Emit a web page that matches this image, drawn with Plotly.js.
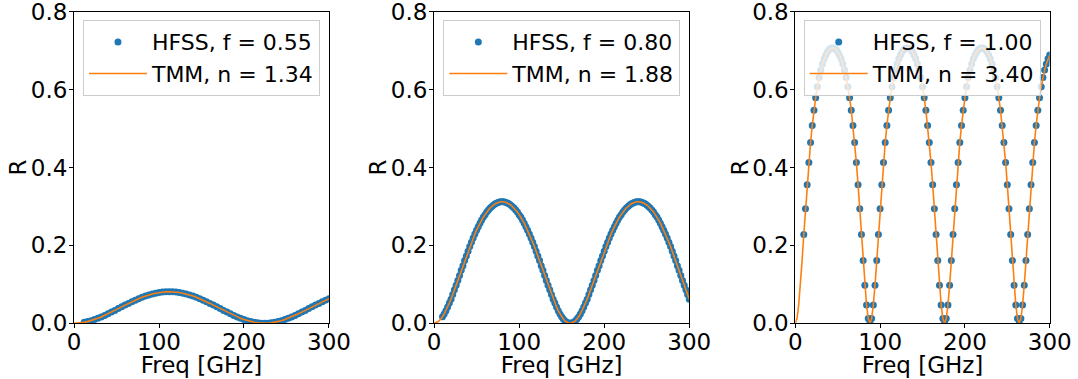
<!DOCTYPE html>
<html>
<head>
<meta charset="utf-8">
<script src="https://cdn.plot.ly/plotly-3.0.1.min.js"></script>
<style>html,body{margin:0;padding:0;background:#fff;}#chart{width:1078px;height:379px;}</style>
</head>
<body>
<div id="chart"></div>
<script>
// Frequency grids [GHz]
var freqTMM_23 = [0,2,4,6,8,10,12,14,16,18,20,22,24,26,28,30,32,34,36,38,40,42,44,46,48,50,52,54,56,58,60,62,64,66,68,70,72,74,76,78,80,82,84,86,88,90,92,94,96,98,100,102,104,106,108,110,112,114,116,118,120,122,124,126,128,130,132,134,136,138,140,142,144,146,148,150,152,154,156,158,160,162,164,166,168,170,172,174,176,178,180,182,184,186,188,190,192,194,196,198,200,202,204,206,208,210,212,214,216,218,220,222,224,226,228,230,232,234,236,238,240,242,244,246,248,250,252,254,256,258,260,262,264,266,268,270,272,274,276,278,280,282,284,286,288,290,292,294,296,298,300];
var freqHFSS_23 = [10,12,14,16,18,20,22,24,26,28,30,32,34,36,38,40,42,44,46,48,50,52,54,56,58,60,62,64,66,68,70,72,74,76,78,80,82,84,86,88,90,92,94,96,98,100,102,104,106,108,110,112,114,116,118,120,122,124,126,128,130,132,134,136,138,140,142,144,146,148,150,152,154,156,158,160,162,164,166,168,170,172,174,176,178,180,182,184,186,188,190,192,194,196,198,200,202,204,206,208,210,212,214,216,218,220,222,224,226,228,230,232,234,236,238,240,242,244,246,248,250,252,254,256,258,260,262,264,266,268,270,272,274,276,278,280,282,284,286,288,290,292,294,296,298,300];
var freqTMM_1 = [0,4,8,12,16,20,24,28,32,36,40,44,48,52,56,60,64,68,72,76,80,84,88,92,96,100,104,108,112,116,120,124,128,132,136,140,144,148,152,156,160,164,168,172,176,180,184,188,192,196,200,204,208,212,216,220,224,228,232,236,240,244,248,252,256,260,264,268,272,276,280,284,288,292,296,300];
var freqHFSS_1 = [12,16,20,24,28,32,36,40,44,48,52,56,60,64,68,72,76,80,84,88,92,96,100,104,108,112,116,120,124,128,132,136,140,144,148,152,156,160,164,168,172,176,180,184,188,192,196,200,204,208,212,216,220,224,228,232,236,240,244,248,252,256,260,264,268,272,276,280,284,288,292,296,300];

// Panel 1: HFSS f = 0.55, TMM n = 1.34
var R_TMM_1 = [0,0.0003,0.0011,0.0025,0.0043,0.0067,0.0095,0.0127,0.0163,0.0202,0.0243,0.0287,0.0331,0.0377,0.0422,0.0467,0.0511,0.0554,0.0594,0.0632,0.0668,0.0700,0.0728,0.0753,0.0773,0.0789,0.0801,0.0808,0.0810,
0.0808,0.0801,0.0789,0.0773,0.0753,0.0728,0.0700,0.0668,0.0632,0.0594,0.0554,0.0511,0.0467,0.0422,0.0377,0.0331,0.0287,0.0243,0.0202,0.0163,0.0127,0.0095,0.0067,0.0043,0.0025,0.0011,0.0003,
0,0.0003,0.0011,0.0025,0.0043,0.0067,0.0095,0.0127,0.0163,0.0202,0.0243,0.0287,0.0331,0.0377,0.0422,0.0467,0.0511,0.0554,0.0594,0.0632];
var R_HFSS_1 = [0.0025,0.0043,0.0067,0.0095,0.0127,0.0163,0.0202,0.0243,0.0287,0.0331,0.0377,0.0422,0.0467,0.0511,0.0554,0.0594,0.0632,0.0668,0.0700,0.0728,0.0753,0.0773,0.0789,0.0801,0.0808,0.0810,
0.0808,0.0801,0.0789,0.0773,0.0753,0.0728,0.0700,0.0668,0.0632,0.0594,0.0554,0.0511,0.0467,0.0422,0.0377,0.0331,0.0287,0.0243,0.0202,0.0163,0.0127,0.0095,0.0067,0.0043,0.0025,0.0011,0.0003,
0,0.0003,0.0011,0.0025,0.0043,0.0067,0.0095,0.0127,0.0163,0.0202,0.0243,0.0287,0.0331,0.0377,0.0422,0.0467,0.0511,0.0554,0.0594,0.0632];

// Panel 2: HFSS f = 0.80, TMM n = 1.88
var R_TMM_2 = [0,0.001,0.003,0.006,0.011,0.017,0.024,0.032,0.042,0.052,0.062,0.074,0.086,0.098,0.110,0.123,0.136,0.148,0.161,0.173,0.185,0.197,0.208,0.219,0.229,0.239,0.248,0.257,0.265,0.273,0.279,0.286,0.291,0.296,0.300,0.304,0.307,0.309,0.311,0.312,0.312,
0.312,0.311,0.309,0.307,0.304,0.300,0.296,0.291,0.286,0.279,0.273,0.265,0.257,0.248,0.239,0.229,0.219,0.208,0.197,0.185,0.173,0.161,0.148,0.136,0.123,0.110,0.098,0.086,0.074,0.062,0.052,0.042,0.032,0.024,0.017,0.011,0.006,0.003,0.001,
0,0.001,0.003,0.006,0.011,0.017,0.024,0.032,0.042,0.052,0.062,0.074,0.086,0.098,0.110,0.123,0.136,0.148,0.161,0.173,0.185,0.197,0.208,0.219,0.229,0.239,0.248,0.257,0.265,0.273,0.279,0.286,0.291,0.296,0.300,0.304,0.307,0.309,0.311,0.312,0.312,
0.312,0.311,0.309,0.307,0.304,0.300,0.296,0.291,0.286,0.279,0.273,0.265,0.257,0.248,0.239,0.229,0.219,0.208,0.197,0.185,0.173,0.161,0.148,0.136,0.123,0.110,0.098,0.086,0.074,0.062];
var R_HFSS_2 = [0.017,0.024,0.032,0.042,0.052,0.062,0.074,0.086,0.098,0.110,0.123,0.136,0.148,0.161,0.173,0.185,0.197,0.208,0.219,0.229,0.239,0.248,0.257,0.265,0.273,0.279,0.286,0.291,0.296,0.300,0.304,0.307,0.309,0.311,0.312,0.312,
0.312,0.311,0.309,0.307,0.304,0.300,0.296,0.291,0.286,0.279,0.273,0.265,0.257,0.248,0.239,0.229,0.219,0.208,0.197,0.185,0.173,0.161,0.148,0.136,0.123,0.110,0.098,0.086,0.074,0.062,0.052,0.042,0.032,0.024,0.017,0.011,0.006,0.003,0.001,
0,0.001,0.003,0.006,0.011,0.017,0.024,0.032,0.042,0.052,0.062,0.074,0.086,0.098,0.110,0.123,0.136,0.148,0.161,0.173,0.185,0.197,0.208,0.219,0.229,0.239,0.248,0.257,0.265,0.273,0.279,0.286,0.291,0.296,0.300,0.304,0.307,0.309,0.311,0.312,0.312,
0.312,0.311,0.309,0.307,0.304,0.300,0.296,0.291,0.286,0.279,0.273,0.265,0.257,0.248,0.239,0.229,0.219,0.208,0.197,0.185,0.173,0.161,0.148,0.136,0.123,0.110,0.098,0.086,0.074,0.062];

// Panel 3: HFSS f = 1.00, TMM n = 3.40
var R_TMM_3 = [0,0.012,0.047,0.098,0.161,0.228,0.294,0.356,0.413,0.464,0.508,0.547,0.579,0.607,0.631,0.650,0.666,0.679,0.689,0.697,0.703,0.706,0.707,0.706,0.703,0.697,0.689,0.679,0.666,0.650,0.631,0.607,0.579,0.547,0.508,0.464,0.413,0.356,0.294,0.228,0.161,0.098,0.047,0.012,
0,0.012,0.047,0.098,0.161,0.228,0.294,0.356,0.413,0.464,0.508,0.547,0.579,0.607,0.631,0.650,0.666,0.679,0.689,0.697,0.703,0.706,0.707,0.706,0.703,0.697,0.689,0.679,0.666,0.650,0.631,0.607,0.579,0.547,0.508,0.464,0.413,0.356,0.294,0.228,0.161,0.098,0.047,0.012,
0,0.012,0.047,0.098,0.161,0.228,0.294,0.356,0.413,0.464,0.508,0.547,0.579,0.607,0.631,0.650,0.666,0.679,0.689,0.697,0.703,0.706,0.707,0.706,0.703,0.697,0.689,0.679,0.666,0.650,0.631,0.607,0.579,0.547,0.508,0.464,0.413,0.356,0.294,0.228,0.161,0.098,0.047,0.012,
0,0.012,0.047,0.098,0.161,0.228,0.294,0.356,0.413,0.464,0.508,0.547,0.579,0.607,0.631,0.650,0.666,0.679,0.689];
var R_HFSS_3 = [0.228,0.294,0.356,0.413,0.464,0.508,0.547,0.579,0.607,0.631,0.650,0.666,0.679,0.689,0.697,0.703,0.706,0.707,0.706,0.703,0.697,0.689,0.679,0.666,0.650,0.631,0.607,0.579,0.547,0.508,0.464,0.413,0.356,0.294,0.228,0.161,0.098,0.047,0.012,
0,0.012,0.047,0.098,0.161,0.228,0.294,0.356,0.413,0.464,0.508,0.547,0.579,0.607,0.631,0.650,0.666,0.679,0.689,0.697,0.703,0.706,0.707,0.706,0.703,0.697,0.689,0.679,0.666,0.650,0.631,0.607,0.579,0.547,0.508,0.464,0.413,0.356,0.294,0.228,0.161,0.098,0.047,0.012,
0,0.012,0.047,0.098,0.161,0.228,0.294,0.356,0.413,0.464,0.508,0.547,0.579,0.607,0.631,0.650,0.666,0.679,0.689,0.697,0.703,0.706,0.707,0.706,0.703,0.697,0.689,0.679,0.666,0.650,0.631,0.607,0.579,0.547,0.508,0.464,0.413,0.356,0.294,0.228,0.161,0.098,0.047,0.012,
0,0.012,0.047,0.098,0.161,0.228,0.294,0.356,0.413,0.464,0.508,0.547,0.579,0.607,0.631,0.650,0.666,0.679,0.689];

var hfssLabels = ['HFSS, f = 0.55', 'HFSS, f = 0.80', 'HFSS, f = 1.00'];
var tmmLabels = ['TMM, n = 1.34', 'TMM, n = 1.88', 'TMM, n = 3.40'];
var xTickVals = [0, 100, 200, 300];
var yTickVals = [0, 0.2, 0.4, 0.6, 0.8];
var xTitle = 'Freq [GHz]';
var yTitle = 'R';

var BLUE = '#1f77b4', ORANGE = '#ff7f0e';
var FONT = 'DejaVu Sans, sans-serif';
var FS = 23;
var FS_LEG = 22;

var panels = [
  {fh: freqHFSS_1, rh: R_HFSS_1, ft: freqTMM_1, rt: R_TMM_1},
  {fh: freqHFSS_23, rh: R_HFSS_2, ft: freqTMM_23, rt: R_TMM_2},
  {fh: freqHFSS_23, rh: R_HFSS_3, ft: freqTMM_23, rt: R_TMM_3}
];

var traces = [];
panels.forEach(function (p, i) {
  var sfx = i === 0 ? '' : String(i + 1);
  var leg = 'legend' + sfx;
  traces.push({
    x: p.fh, y: p.rh, type: 'scatter', mode: 'markers',
    name: hfssLabels[i], xaxis: 'x' + sfx, yaxis: 'y' + sfx, legend: leg,
    marker: {color: BLUE, size: 7, line: {width: 0}}
  });
  traces.push({
    x: p.ft, y: p.rt, type: 'scatter', mode: 'lines',
    name: tmmLabels[i], xaxis: 'x' + sfx, yaxis: 'y' + sfx, legend: leg,
    line: {color: ORANGE, width: 1.6}
  });
});

var xDomains = [[0.06865, 0.30519], [0.40260, 0.63942], [0.73776, 0.97375]];
var legendRight = [0.2968, 0.6311, 0.9654];
var yDomain = [0.14697, 0.96913];

var layout = {
  width: 1078, height: 379,
  margin: {l: 0, r: 0, t: 0, b: 0},
  paper_bgcolor: '#ffffff', plot_bgcolor: '#ffffff',
  font: {family: FONT, size: FS, color: '#000000'},
  showlegend: true
};

for (var i = 0; i < 3; i++) {
  var sfx = i === 0 ? '' : String(i + 1);
  layout['xaxis' + sfx] = {
    domain: xDomains[i], anchor: 'y' + sfx, range: [0, 300],
    tickvals: xTickVals, ticks: 'outside', ticklen: 4, tickwidth: 1, tickcolor: '#000',
    ticklabelstandoff: -6, ticklabeloverflow: 'allow',
    showline: true, linecolor: '#000', linewidth: 1, mirror: true,
    showgrid: false, zeroline: false, automargin: false,
    tickfont: {family: FONT, size: FS, color: '#000'},
    title: {text: xTitle, font: {family: FONT, size: FS, color: '#000'}, standoff: 2}
  };
  layout['yaxis' + sfx] = {
    domain: yDomain, anchor: 'x' + sfx, range: [0, 0.8],
    tickvals: yTickVals, tickformat: '.1f', ticks: 'outside', ticklen: 4, tickwidth: 1, tickcolor: '#000',
    ticklabelstandoff: -3, ticklabeloverflow: 'allow',
    showline: true, linecolor: '#000', linewidth: 1, mirror: true,
    showgrid: false, zeroline: false, automargin: false,
    tickfont: {family: FONT, size: FS, color: '#000'},
    title: {text: yTitle, font: {family: FONT, size: FS, color: '#000'}, standoff: 2}
  };
  layout['legend' + sfx] = {
    x: legendRight[i], xanchor: 'right', y: 0.947, yanchor: 'top',
    bgcolor: 'rgba(255,255,255,0.8)', bordercolor: '#cccccc', borderwidth: 1,
    font: {family: FONT, size: FS_LEG, color: '#000'},
    itemwidth: 58, tracegroupgap: 0
  };
}

Plotly.newPlot('chart', traces, layout, {staticPlot: true, displayModeBar: false}).then(function () {
  // fine placement of axis titles to match the reference
  document.querySelectorAll('.g-ytitle, .g-y2title, .g-y3title').forEach(function (g) {
    g.setAttribute('transform', 'translate(5,0)');
  });
  document.querySelectorAll('.g-xtitle, .g-x2title, .g-x3title').forEach(function (g) {
    g.setAttribute('transform', 'translate(0,1)');
  });
});
</script>
</body>
</html>
